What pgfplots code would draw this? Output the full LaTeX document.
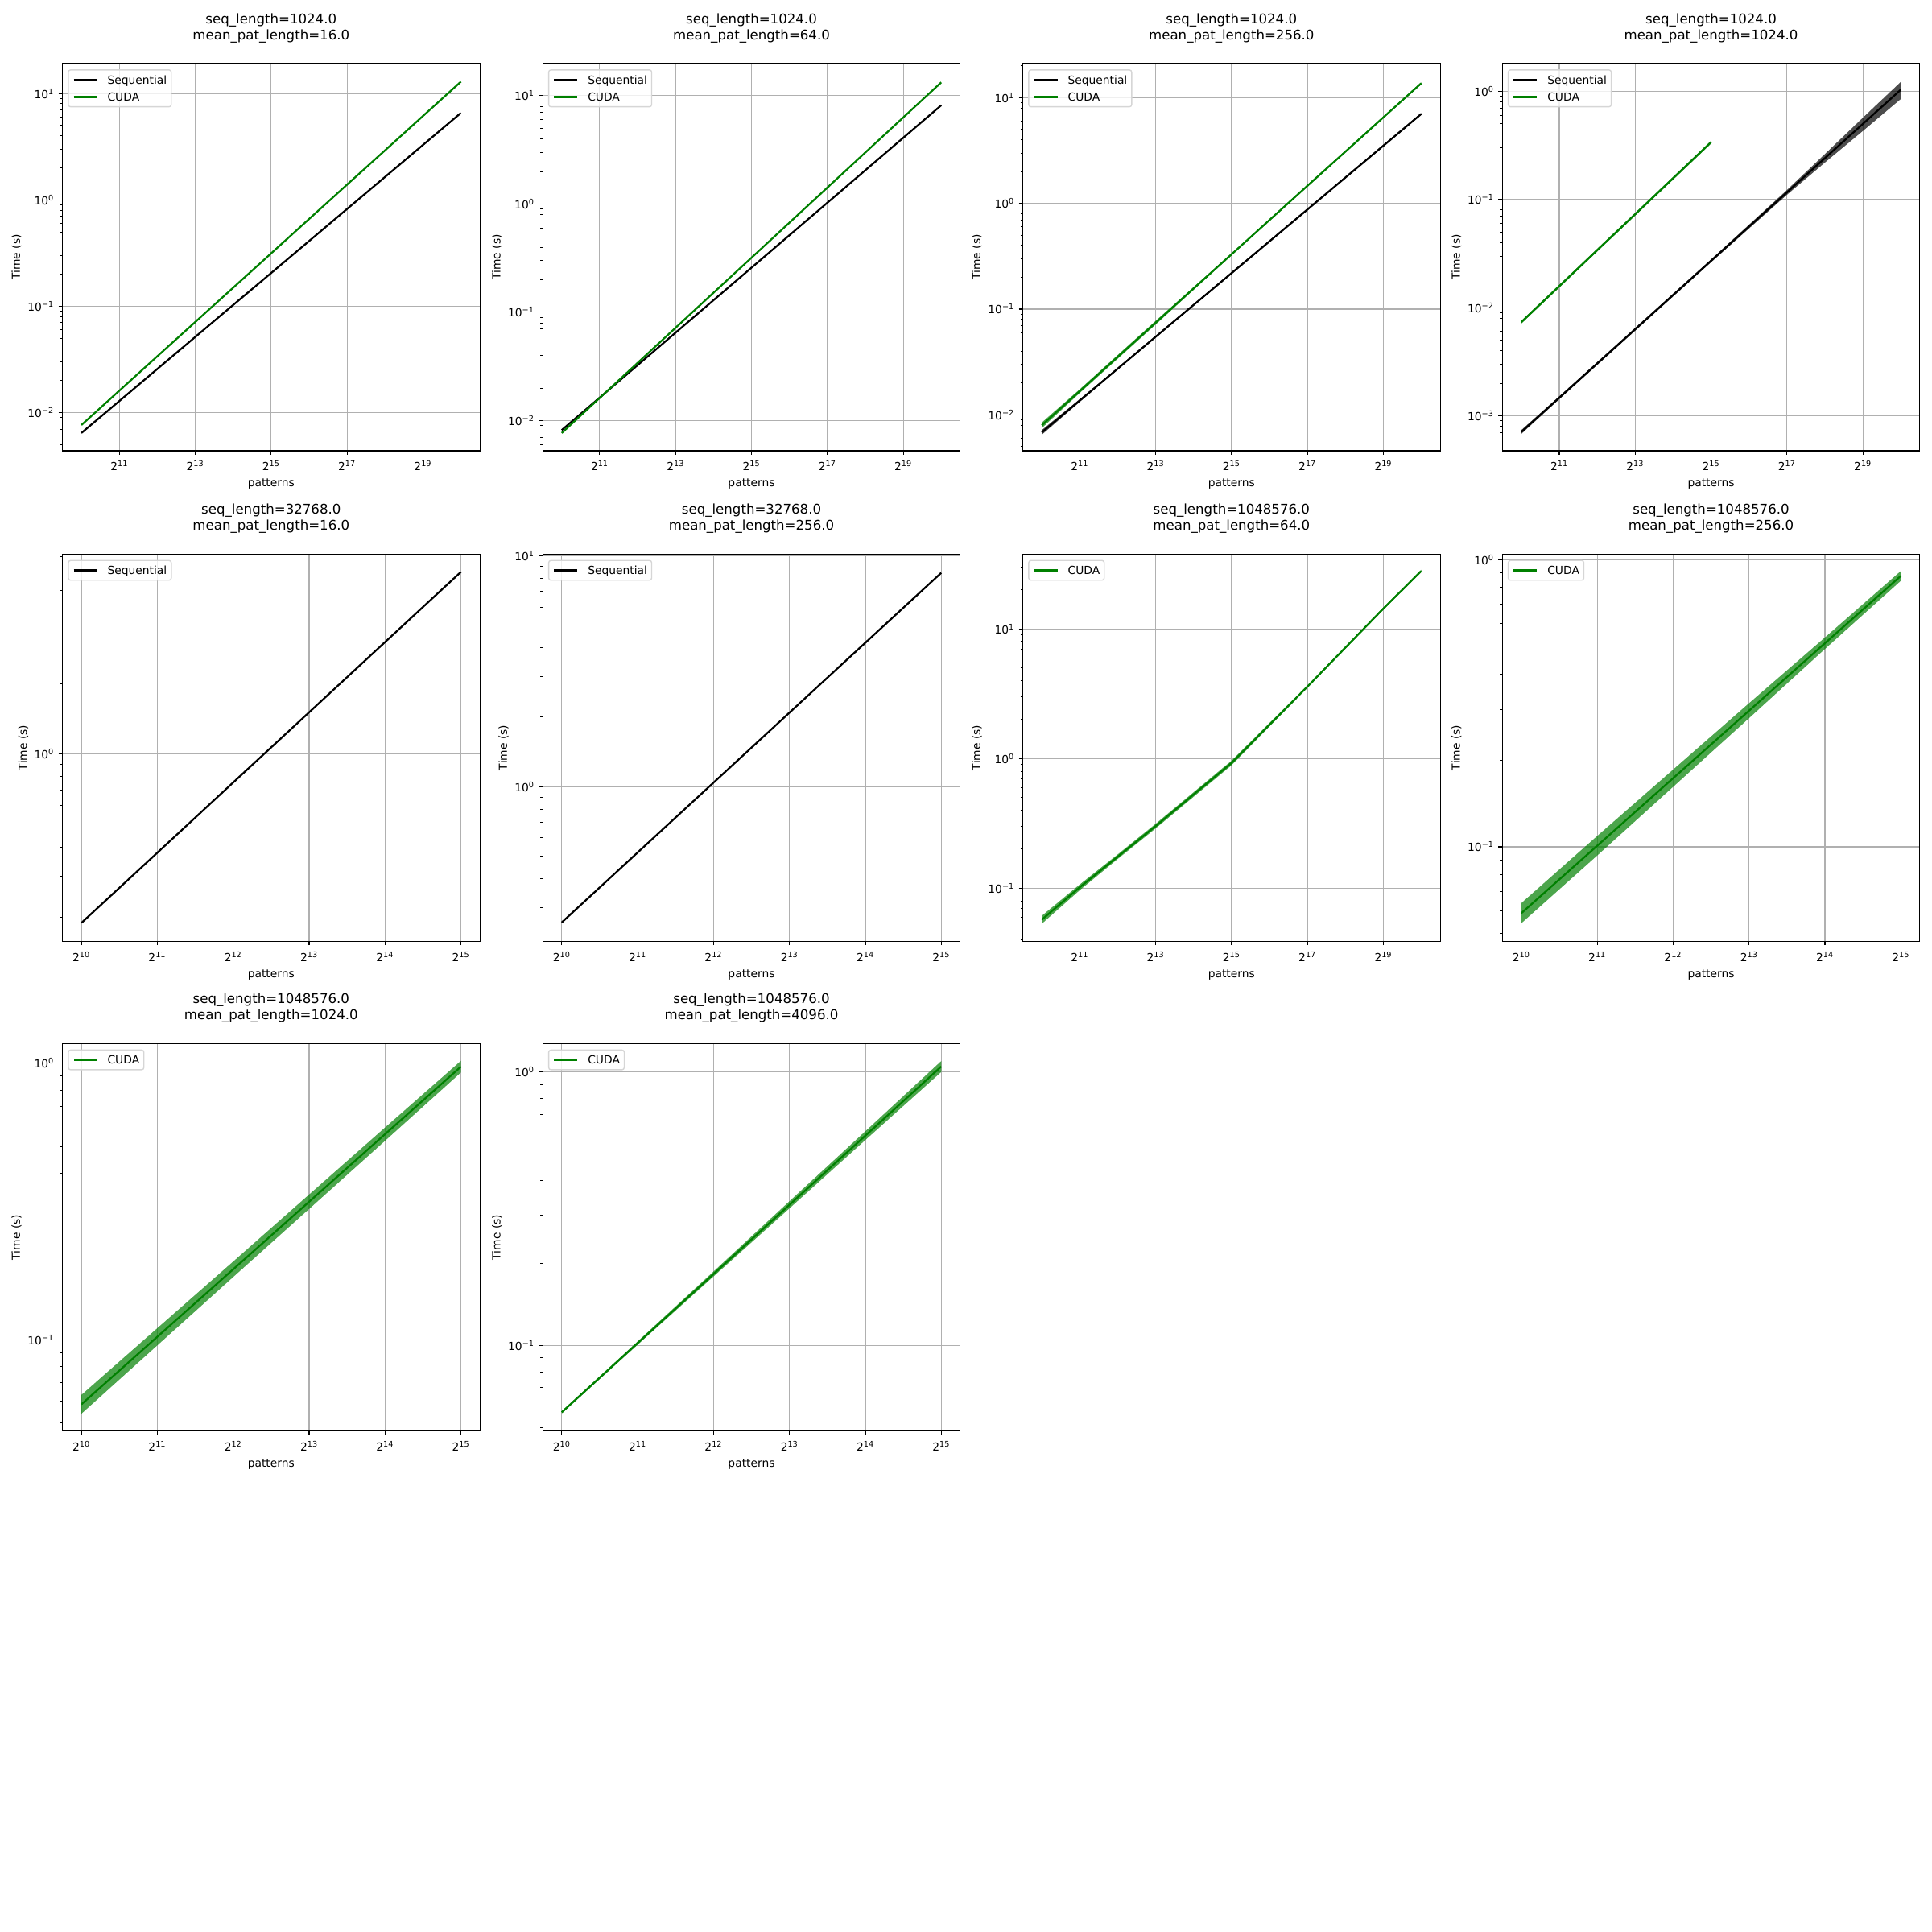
\documentclass[border=0pt]{standalone}
\usepackage{fontspec}
\setmainfont{DejaVu Sans}
\usepackage{pgfplots}
\pgfplotsset{compat=1.18}
\usepackage{pgfplotstable}
\definecolor{mplgreen}{RGB}{0,128,0}
\definecolor{gridgray}{RGB}{176,176,176}
\definecolor{legedge}{RGB}{214,214,214}

\pgfplotstableread{
n seq cuda
1024 0.006427 0.007638
2048 0.01285 0.01607
4096 0.02570 0.03381
8192 0.05140 0.07104
16384 0.1028 0.1493
32768 0.2051 0.3141
65536 0.4102 0.6607
131072 0.8204 1.390
262144 1.641 2.917
524288 3.281 6.138
1048576 6.561 12.91
}\tabA
\pgfplotstableread{
n seq cuda
1024 0.008166 0.007674
2048 0.01629 0.01618
4096 0.03251 0.03411
8192 0.06486 0.07194
16384 0.1294 0.1517
32768 0.2582 0.3192
65536 0.5152 0.6730
131072 1.028 1.419
262144 2.051 2.992
524288 4.093 6.310
1048576 8.166 13.30
}\tabB
\pgfplotstableread{
n seq cuda
1024 0.006823 0.007962
2048 0.01365 0.01675
4096 0.02729 0.03532
8192 0.05470 0.07430
16384 0.1094 0.1567
32768 0.2188 0.3296
65536 0.4375 0.6950
131072 0.8750 1.466
262144 1.754 3.083
524288 3.508 6.501
1048576 7.015 13.68
}\tabC
\pgfplotstableread{
n seq
1024 0.0007079
2048 0.001467
4096 0.003041
8192 0.006302
16384 0.01306
32768 0.02707
65536 0.05610
131072 0.1163
262144 0.2410
524288 0.4994
1048576 1.035
}\tabDs
\pgfplotstableread{
n cuda
1024 0.007328
2048 0.01578
4096 0.03396
8192 0.07295
16384 0.1570
32768 0.3381
}\tabDc
\pgfplotstableread{
n seq
1024 0.1892
2048 0.3776
4096 0.7542
8192 1.505
16384 3.005
32768 5.998
}\tabE
\pgfplotstableread{
n seq
1024 0.2582
2048 0.5187
4096 1.041
8192 2.092
16384 4.201
32768 8.433
}\tabF
\pgfplotstableread{
n cuda
1024 0.05715
2048 0.1016
4096 0.1750
8192 0.3013
16384 0.5284
32768 0.9247
65536 1.824
131072 3.589
262144 7.178
524288 14.35
1048576 27.99
}\tabG
\pgfplotstableread{
n cuda
1024 0.05875
2048 0.1009
4096 0.1734
8192 0.2979
16384 0.5117
32768 0.8779
}\tabH
\pgfplotstableread{
n cuda
1024 0.05848
2048 0.1026
4096 0.1800
8192 0.3159
16384 0.5544
32768 0.9727
}\tabI
\pgfplotstableread{
n cuda
1024 0.05689
2048 0.1019
4096 0.1824
8192 0.3266
16384 0.5848
32768 1.047
}\tabJ

\pgfplotsset{
  legend image code/.code={\draw[#1] (0in,0in) -- (0.29in,0in); \path (0.409in,0in);},
  every axis/.append style={
    scale only axis, width=5.186in, height=4.81in,
    tick pos=left, tick align=outside,
    major tick length=3.5pt, minor tick length=2pt,
    major tick style={black, line width=0.8pt},
    minor tick style={black, line width=0.6pt},
    axis line style={black, line width=0.8pt},
    xmajorgrids, ymajorgrids,
    major grid style={gridgray, line width=0.8pt},
    xminorticks=false,
    minor ytick={0.0002,0.0003,0.0004,0.0005,0.0006,0.0007,0.0008,0.0009,
      0.002,0.003,0.004,0.005,0.006,0.007,0.008,0.009,
      0.02,0.03,0.04,0.05,0.06,0.07,0.08,0.09,
      0.2,0.3,0.4,0.5,0.6,0.7,0.8,0.9,
      2,3,4,5,6,7,8,9,20,30,40,50,60,70,80,90},
    tick label style={font=\fontsize{10}{12}\selectfont},
    xticklabel style={anchor=base, inner sep=0pt, yshift=-0.201in},
    yticklabel style={anchor=east, inner sep=0pt, xshift=-0.054in},
    xlabel={patterns}, ylabel={Time (s)},
    legend cell align=left,
  },
  every axis x label/.style={at={(axis description cs:0.5,0)}, anchor=base, yshift=-0.45in, font=\fontsize{10}{12}\selectfont},
  every axis y label/.style={at={(axis description cs:-0.110,0.5)}, rotate=90, anchor=center, font=\fontsize{10}{12}\selectfont},
  every axis title/.style={at={(axis description cs:0.5,1)}, anchor=south, yshift=0.255in, align=center, inner sep=0pt, font=\fontsize{12}{14.6}\selectfont},
  every axis legend/.style={at={(axis description cs:0,1)}, anchor=north west, xshift=0.067in, yshift=-0.072in,
      draw=legedge, fill=white, fill opacity=0.8, text opacity=1, rounded corners=2pt, line width=1pt,
      inner xsep=0.055in, inner ysep=0.072in, row sep=0.112in,
      font=\fontsize{10}{12}\selectfont,
      nodes={inner sep=0pt, text height=7.3pt, text depth=0pt}, cells={anchor=west}},
  rswide/.style={xmin=724.08, xmax=1482910,
    xtick={2048,8192,32768,131072,524288},
    xticklabels={2\textsuperscript{11},2\textsuperscript{13},2\textsuperscript{15},2\textsuperscript{17},2\textsuperscript{19}}},
  rsnarrow/.style={xmin=861.1, xmax=38968,
    xtick={1024,2048,4096,8192,16384,32768},
    xticklabels={2\textsuperscript{10},2\textsuperscript{11},2\textsuperscript{12},2\textsuperscript{13},2\textsuperscript{14},2\textsuperscript{15}}},
  rsseq/.style={black, line width=1.65pt, line join=round},
  rscuda/.style={mplgreen, line width=1.65pt, line join=round},
  rsgband/.style={fill=mplgreen, fill opacity=0.7, draw=none, forget plot},
  rskband/.style={fill=black, fill opacity=0.7, draw=none, forget plot},
  rsticksA/.style={ytick={0.01,0.1,1,10}, yticklabels={10\textsuperscript{−2},10\textsuperscript{−1},10\textsuperscript{0},10\textsuperscript{1}}},
}

\begin{document}
\begin{tikzpicture}
\fill[white] (0,0) rectangle (24in,24in);
\path[use as bounding box] (0,0) rectangle (24in,24in);

% A
\begin{axis}[xmode=log, ymode=log, log basis x=2, rswide, rsticksA, anchor=south west, at={(0.775in,18.40in)}, ymin=0.004375, ymax=19.10,
  title={seq\_length=1024.0\\mean\_pat\_length=16.0}]
\addplot[rsseq] table[x=n,y=seq]{\tabA}; \addlegendentry{Sequential}
\addplot[rscuda] table[x=n,y=cuda]{\tabA}; \addlegendentry{CUDA}
\end{axis}

% B
\begin{axis}[xmode=log, ymode=log, log basis x=2, rswide, rsticksA, anchor=south west, at={(6.742in,18.40in)}, ymin=0.005260, ymax=19.82,
  title={seq\_length=1024.0\\mean\_pat\_length=64.0}]
\addplot[rsseq] table[x=n,y=seq]{\tabB}; \addlegendentry{Sequential}
\addplot[rscuda] table[x=n,y=cuda]{\tabB}; \addlegendentry{CUDA}
\end{axis}

% C
\begin{axis}[xmode=log, ymode=log, log basis x=2, rswide, rsticksA, anchor=south west, at={(12.705in,18.40in)}, ymin=0.004571, ymax=20.99,
  title={seq\_length=1024.0\\mean\_pat\_length=256.0}]
\addplot[rskband] coordinates {(1024,0.007164) (2048,0.01406) (4096,0.02784) (8192,0.05579) (16384,0.1116) (32768,0.2232) (65536,0.4463) (131072,0.8925) (262144,1.789) (524288,3.578) (1048576,7.155)
  (1048576,6.875) (524288,3.438) (262144,1.719) (131072,0.8575) (65536,0.4288) (32768,0.2144) (16384,0.1072) (8192,0.05361) (4096,0.02674) (2048,0.01324) (1024,0.006482)};
\addplot[rsseq] table[x=n,y=seq]{\tabC}; \addlegendentry{Sequential}
\addplot[rsgband] coordinates {(1024,0.008440) (2048,0.01742) (4096,0.03673) (8192,0.07727) (16384,0.1614) (32768,0.3362) (65536,0.7089) (131072,1.495) (262144,3.145) (524288,6.631) (1048576,13.95)
  (1048576,13.41) (524288,6.371) (262144,3.021) (131072,1.437) (65536,0.6811) (32768,0.3230) (16384,0.1520) (8192,0.07133) (4096,0.03391) (2048,0.01608) (1024,0.007484)};
\addplot[rscuda] table[x=n,y=cuda]{\tabC}; \addlegendentry{CUDA}
\end{axis}

% D
\begin{axis}[xmode=log, ymode=log, log basis x=2, rswide, anchor=south west, at={(18.662in,18.40in)}, ymin=0.0004742, ymax=1.803,
  ytick={0.001,0.01,0.1,1}, yticklabels={10\textsuperscript{−3},10\textsuperscript{−2},10\textsuperscript{−1},10\textsuperscript{0}},
  title={seq\_length=1024.0\\mean\_pat\_length=1024.0}]
\addplot[rskband] coordinates {(1024,0.0007362) (2048,0.001511) (4096,0.003132) (8192,0.006491) (16384,0.01345) (32768,0.02788) (65536,0.05834) (131072,0.1221) (262144,0.2627) (524288,0.5693) (1048576,1.221)
  (1048576,0.8487) (524288,0.4295) (262144,0.2193) (131072,0.1105) (65536,0.05386) (32768,0.02626) (16384,0.01267) (8192,0.006113) (4096,0.002950) (2048,0.001423) (1024,0.0006796)};
\addplot[rsseq] table[x=n,y=seq]{\tabDs}; \addlegendentry{Sequential}
\addplot[rsgband] coordinates {(1024,0.007548) (2048,0.01625) (4096,0.03498) (8192,0.07514) (16384,0.1617) (32768,0.3482)
  (32768,0.3280) (16384,0.1523) (8192,0.07076) (4096,0.03294) (2048,0.01531) (1024,0.007108)};
\addplot[rscuda] table[x=n,y=cuda]{\tabDc}; \addlegendentry{CUDA}
\end{axis}

% E
\begin{axis}[xmode=log, ymode=log, log basis x=2, rsnarrow, anchor=south west, at={(0.775in,12.306in)}, ymin=0.1578, ymax=7.145,
  ytick={1}, yticklabels={10\textsuperscript{0}},
  ylabel style={at={(axis description cs:-0.0937,0.5)}},
  title={seq\_length=32768.0\\mean\_pat\_length=16.0}]
\addplot[rsseq] table[x=n,y=seq]{\tabE}; \addlegendentry{Sequential}
\end{axis}

% F
\begin{axis}[xmode=log, ymode=log, log basis x=2, rsnarrow, anchor=south west, at={(6.742in,12.306in)}, ymin=0.2138, ymax=10.16,
  ytick={1,10}, yticklabels={10\textsuperscript{0},10\textsuperscript{1}},
  ylabel style={at={(axis description cs:-0.0937,0.5)}},
  title={seq\_length=32768.0\\mean\_pat\_length=256.0}]
\addplot[rsseq] table[x=n,y=seq]{\tabF}; \addlegendentry{Sequential}
\end{axis}

% G
\begin{axis}[xmode=log, ymode=log, log basis x=2, rswide, anchor=south west, at={(12.705in,12.306in)}, ymin=0.0389, ymax=37.76,
  ytick={0.1,1,10}, yticklabels={10\textsuperscript{−1},10\textsuperscript{0},10\textsuperscript{1}},
  title={seq\_length=1048576.0\\mean\_pat\_length=64.0}]
\addplot[rsgband] coordinates {(1024,0.06115) (2048,0.1067) (4096,0.1820) (8192,0.3134) (16384,0.5495) (32768,0.9617) (65536,1.879) (131072,3.661) (262144,7.322) (524288,14.64) (1048576,28.55)
  (1048576,27.43) (524288,14.06) (262144,7.034) (131072,3.517) (65536,1.769) (32768,0.8877) (16384,0.5073) (8192,0.2892) (4096,0.1680) (2048,0.09652) (1024,0.05315)};
\addplot[rscuda] table[x=n,y=cuda]{\tabG}; \addlegendentry{CUDA}
\end{axis}

% H
\begin{axis}[xmode=log, ymode=log, log basis x=2, rsnarrow, anchor=south west, at={(18.662in,12.306in)}, ymin=0.04688, ymax=1.045,
  ytick={0.1,1}, yticklabels={10\textsuperscript{−1},10\textsuperscript{0}},
  title={seq\_length=1048576.0\\mean\_pat\_length=256.0}]
\addplot[rsgband] coordinates {(1024,0.06368) (2048,0.1091) (4096,0.1858) (8192,0.3163) (16384,0.5358) (32768,0.9129)
  (32768,0.8442) (16384,0.4887) (8192,0.2806) (4096,0.1618) (2048,0.09330) (1024,0.05420)};
\addplot[rscuda] table[x=n,y=cuda]{\tabH}; \addlegendentry{CUDA}
\end{axis}

% I
\begin{axis}[xmode=log, ymode=log, log basis x=2, rsnarrow, anchor=south west, at={(0.775in,6.225in)}, ymin=0.04688, ymax=1.178,
  ytick={0.1,1}, yticklabels={10\textsuperscript{−1},10\textsuperscript{0}},
  title={seq\_length=1048576.0\\mean\_pat\_length=1024.0}]
\addplot[rsgband] coordinates {(1024,0.06324) (2048,0.1102) (4096,0.1920) (8192,0.3354) (16384,0.5859) (32768,1.0208)
  (32768,0.9268) (16384,0.5246) (8192,0.2975) (4096,0.1688) (2048,0.09553) (1024,0.05408)};
\addplot[rscuda] table[x=n,y=cuda]{\tabI}; \addlegendentry{CUDA}
\end{axis}

% J
\begin{axis}[xmode=log, ymode=log, log basis x=2, rsnarrow, anchor=south west, at={(6.742in,6.225in)}, ymin=0.04864, ymax=1.269,
  ytick={0.1,1}, yticklabels={10\textsuperscript{−1},10\textsuperscript{0}},
  title={seq\_length=1048576.0\\mean\_pat\_length=4096.0}]
\addplot[rsgband] coordinates {(1024,0.05742) (2048,0.1033) (4096,0.1862) (8192,0.3365) (16384,0.6067) (32768,1.0963)
  (32768,0.9999) (16384,0.5637) (8192,0.3170) (4096,0.1787) (2048,0.1005) (1024,0.05637)};
\addplot[rscuda] table[x=n,y=cuda]{\tabJ}; \addlegendentry{CUDA}
\end{axis}

\end{tikzpicture}
\end{document}
